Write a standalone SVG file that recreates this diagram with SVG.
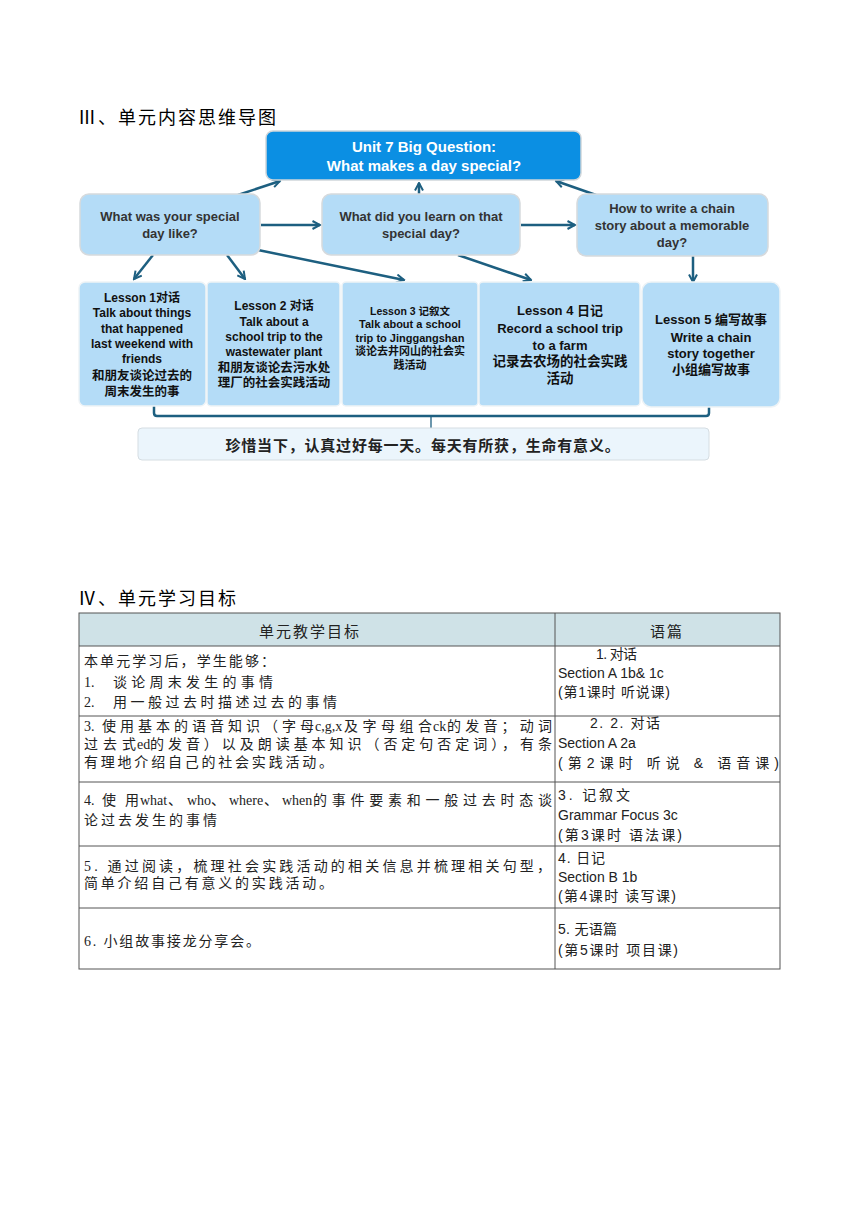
<svg xmlns="http://www.w3.org/2000/svg" width="860" height="1216" viewBox="0 0 860 1216">
<defs>
<style>
.title{font-family:'Liberation Serif','Noto Sans CJK SC',serif;font-size:18px;fill:#000;letter-spacing:2px}
.q{fill:#b4dcf7;stroke:#d6dadd;stroke-width:1.5}
.qt{font-family:'Liberation Sans','Noto Sans CJK SC',sans-serif;font-size:13px;font-weight:bold;fill:#333;text-anchor:middle}
.top{fill:#0b8fe3;stroke:#d0d6da;stroke-width:1.5}
.tt{font-family:'Liberation Sans','Noto Sans CJK SC',sans-serif;font-size:15px;font-weight:bold;fill:#fff;text-anchor:middle}
.ls{fill:#b4dcf7;stroke:#eef3f6;stroke-width:1.5}
.lt{font-family:'Liberation Sans','Noto Sans CJK SC',sans-serif;font-weight:bold;fill:#111;text-anchor:middle}
.con{fill:none;stroke:#1d5f80;stroke-width:2.5}
.tb{fill:none;stroke:#555;stroke-width:1}
.lc{font-family:'Liberation Serif','Noto Sans CJK SC',serif;font-size:14px;fill:#222}
.rc{font-family:'Liberation Sans','Noto Sans CJK SC',sans-serif;font-size:14px;fill:#222}
.hd{font-family:'Noto Sans CJK SC',sans-serif;font-size:15px;fill:#222;text-anchor:middle;letter-spacing:2px}
</style>
<marker id="ah" viewBox="0 0 10 10" refX="8.5" refY="5" markerWidth="10" markerHeight="10" markerUnits="userSpaceOnUse" orient="auto">
<path d="M1,1 L8.5,5 L1,9" fill="none" stroke="#1d5f80" stroke-width="2"/>
</marker>
</defs>
<rect width="860" height="1216" fill="#fff"/>

<text class="title" x="78" y="124">Ⅲ、单元内容思维导图</text>

<g id="connectors">
<line class="con" x1="238" y1="195" x2="280" y2="181" marker-end="url(#ah)"/>
<line class="con" x1="261" y1="225" x2="320" y2="225" marker-end="url(#ah)"/>
<line class="con" x1="419" y1="194" x2="419" y2="183" stroke-width="1.5" marker-end="url(#ah)"/>
<line class="con" x1="596" y1="195" x2="556" y2="181" marker-end="url(#ah)"/>
<line class="con" x1="521" y1="225" x2="575" y2="225" marker-end="url(#ah)"/>
<line class="con" x1="153" y1="255" x2="134" y2="279" marker-end="url(#ah)"/>
<line class="con" x1="227" y1="255" x2="245" y2="279" marker-end="url(#ah)"/>
<line class="con" x1="258" y1="250" x2="404" y2="280" marker-end="url(#ah)"/>
<line class="con" x1="458" y1="255" x2="531" y2="280" marker-end="url(#ah)"/>
<line class="con" x1="693" y1="256" x2="693" y2="282" marker-end="url(#ah)"/>
<path class="con" d="M154,406 V413 Q154,416 157,416 H706 Q709,416 709,413 V407"/>
<line x1="431" y1="416" x2="431" y2="440" stroke="#1d5f80" stroke-width="1.3"/>
</g>

<g id="n-top">
<rect class="top" x="266" y="131" width="315" height="49" rx="7"/>
<text class="tt" x="424" y="152">Unit 7 Big Question:</text>
<text class="tt" x="424" y="171">What makes a day special?</text>
</g>
<g id="n-q1">
<rect class="q" x="80" y="194" width="180" height="61" rx="9"/>
<text class="qt" x="170" y="221">What was your special</text>
<text class="qt" x="170" y="238">day like?</text>
</g>
<g id="n-q2">
<rect class="q" x="322" y="194" width="198" height="61" rx="9"/>
<text class="qt" x="421" y="221">What did you learn on that</text>
<text class="qt" x="421" y="238">special day?</text>
</g>
<g id="n-q3">
<rect class="q" x="577" y="194" width="191" height="62" rx="9"/>
<text class="qt" x="672" y="213">How to write a chain</text>
<text class="qt" x="672" y="230">story about a memorable</text>
<text class="qt" x="672" y="247">day?</text>
</g>

<g id="n-l1">
<rect class="ls" x="79" y="282" width="127" height="124" rx="6"/>
<g class="lt" font-size="12">
<text x="142" y="302">Lesson 1对话</text>
<text x="142" y="317">Talk about things</text>
<text x="142" y="333">that happened</text>
<text x="142" y="348">last weekend with</text>
<text x="142" y="363">friends</text>
<text x="142" y="380" font-size="12.5">和朋友谈论过去的</text>
<text x="142" y="396" font-size="12.5">周末发生的事</text>
</g>
</g>
<g id="n-l2">
<rect class="ls" x="207" y="282" width="133" height="124" rx="4"/>
<g class="lt" font-size="12">
<text x="274" y="310">Lesson 2 对话</text>
<text x="274" y="326">Talk about a</text>
<text x="274" y="341">school trip to the</text>
<text x="274" y="356">wastewater plant</text>
<text x="274" y="372" font-size="12.5">和朋友谈论去污水处</text>
<text x="274" y="387" font-size="12.5">理厂的社会实践活动</text>
</g>
</g>
<g id="n-l3">
<rect class="ls" x="342" y="282" width="136" height="124" rx="4"/>
<g class="lt" font-size="10.5">
<text x="410" y="315">Lesson 3 记叙文</text>
<text x="410" y="328" font-size="11">Talk about a school</text>
<text x="410" y="342" font-size="11">trip to Jinggangshan</text>
<text x="410" y="355" font-size="11">谈论去井冈山的社会实</text>
<text x="410" y="369" font-size="11">践活动</text>
</g>
</g>
<g id="n-l4">
<rect class="ls" x="479" y="282" width="161" height="124" rx="4"/>
<g class="lt" font-size="13">
<text x="560" y="315">Lesson 4 日记</text>
<text x="560" y="333">Record a school trip</text>
<text x="560" y="350">to a farm</text>
<text x="560" y="366" font-size="13.5">记录去农场的社会实践</text>
<text x="560" y="383" font-size="13.5">活动</text>
</g>
</g>
<g id="n-l5">
<rect class="ls" x="642" y="282" width="138" height="125" rx="9"/>
<g class="lt" font-size="13">
<text x="711" y="324">Lesson 5 编写故事</text>
<text x="711" y="342">Write a chain</text>
<text x="711" y="358">story together</text>
<text x="711" y="374">小组编写故事</text>
</g>
</g>
<g id="n-summary">
<rect x="138" y="428" width="571" height="32" rx="4" fill="#ebf5fc" stroke="#d5dde2" stroke-width="1"/>
<text x="423" y="451" text-anchor="middle" font-family="'Noto Sans CJK SC',sans-serif" font-size="15" font-weight="bold" fill="#222" letter-spacing="0.8">珍惜当下，认真过好每一天。每天有所获，生命有意义。</text>
</g>

<text class="title" x="78" y="605">Ⅳ、单元学习目标</text>

<g id="table">
<rect x="79" y="613" width="701" height="33" fill="#cfe2e7"/>
<rect class="tb" x="79" y="613" width="701" height="356"/>
<line class="tb" x1="555" y1="613" x2="555" y2="969"/>
<line class="tb" x1="79" y1="646" x2="780" y2="646"/>
<line class="tb" x1="79" y1="716" x2="780" y2="716"/>
<line class="tb" x1="79" y1="782" x2="780" y2="782"/>
<line class="tb" x1="79" y1="846" x2="780" y2="846"/>
<line class="tb" x1="79" y1="908" x2="780" y2="908"/>

<text class="hd" x="310" y="637">单元教学目标</text>
<text class="hd" x="667" y="637">语篇</text>

<text class="lc" x="84" y="666" textLength="191" lengthAdjust="spacing">本单元学习后，学生能够：</text>
<text class="lc" x="84" y="687">1.</text>
<text class="lc" x="113" y="687" textLength="160" lengthAdjust="spacing">谈论周末发生的事情</text>
<text class="lc" x="84" y="707">2.</text>
<text class="lc" x="113" y="707" textLength="224" lengthAdjust="spacing">用一般过去时描述过去的事情</text>

<text class="lc" x="84" y="731">3.</text>
<text class="lc" x="102" y="731" textLength="212" lengthAdjust="spacing">使用基本的语音知识（字母</text>
<text class="lc" x="315" y="731">c,g,x</text>
<text class="lc" x="344" y="731" textLength="88" lengthAdjust="spacing">及字母组合</text>
<text class="lc" x="433" y="731">ck</text>
<text class="lc" x="447" y="731" textLength="105" lengthAdjust="spacing">的发音；动词</text>
<text class="lc" x="84" y="749" textLength="52" lengthAdjust="spacing">过去式</text>
<text class="lc" x="137" y="749">ed</text>
<text class="lc" x="150" y="749" textLength="402" lengthAdjust="spacing">的发音）以及朗读基本知识（否定句否定词），有条</text>
<text class="lc" x="84" y="767" textLength="249" lengthAdjust="spacing">有理地介绍自己的社会实践活动。</text>

<text class="lc" x="84" y="805">4.</text>
<text class="lc" x="102" y="805" textLength="37" lengthAdjust="spacing">使用</text>
<text class="lc" x="140" y="805">what</text>
<text class="lc" x="168" y="805">、</text>
<text class="lc" x="187" y="805">who</text>
<text class="lc" x="211" y="805">、</text>
<text class="lc" x="229" y="805">where</text>
<text class="lc" x="264" y="805">、</text>
<text class="lc" x="282" y="805">when</text>
<text class="lc" x="313" y="805" textLength="239" lengthAdjust="spacing">的事件要素和一般过去时态谈</text>
<text class="lc" x="84" y="825" textLength="133" lengthAdjust="spacing">论过去发生的事情</text>

<text class="lc" x="84" y="871" textLength="467" lengthAdjust="spacing">5. 通过阅读，梳理社会实践活动的相关信息并梳理相关句型，</text>
<text class="lc" x="84" y="888" textLength="249" lengthAdjust="spacing">简单介绍自己有意义的实践活动。</text>

<text class="lc" x="84" y="946" textLength="176" lengthAdjust="spacing">6. 小组故事接龙分享会。</text>

<text class="rc" x="596" y="659" textLength="41" lengthAdjust="spacing">1. 对话</text>
<text class="rc" x="558" y="678" font-size="14.5">Section A 1b&amp; 1c</text>
<text class="rc" x="558" y="697" textLength="112" lengthAdjust="spacing">(第1课时  听说课)</text>

<text class="rc" x="590" y="728" textLength="70" lengthAdjust="spacing">2. 2. 对话</text>
<text class="rc" x="558" y="748" font-size="14.5">Section A 2a</text>
<text class="rc" x="558" y="768" textLength="221" lengthAdjust="spacing">(第2课时  听说 &amp; 语音课)</text>

<text class="rc" x="558" y="800" textLength="72" lengthAdjust="spacing">3. 记叙文</text>
<text class="rc" x="558" y="820" font-size="14.5">Grammar Focus 3c</text>
<text class="rc" x="558" y="840" textLength="124" lengthAdjust="spacing">(第3课时  语法课)</text>

<text class="rc" x="558" y="863" textLength="47" lengthAdjust="spacing">4. 日记</text>
<text class="rc" x="558" y="882" font-size="14.5">Section B 1b</text>
<text class="rc" x="558" y="901" textLength="118" lengthAdjust="spacing">(第4课时  读写课)</text>

<text class="rc" x="558" y="934" textLength="59" lengthAdjust="spacing">5. 无语篇</text>
<text class="rc" x="558" y="955" textLength="120" lengthAdjust="spacing">(第5课时  项目课)</text>
</g>
</svg>
